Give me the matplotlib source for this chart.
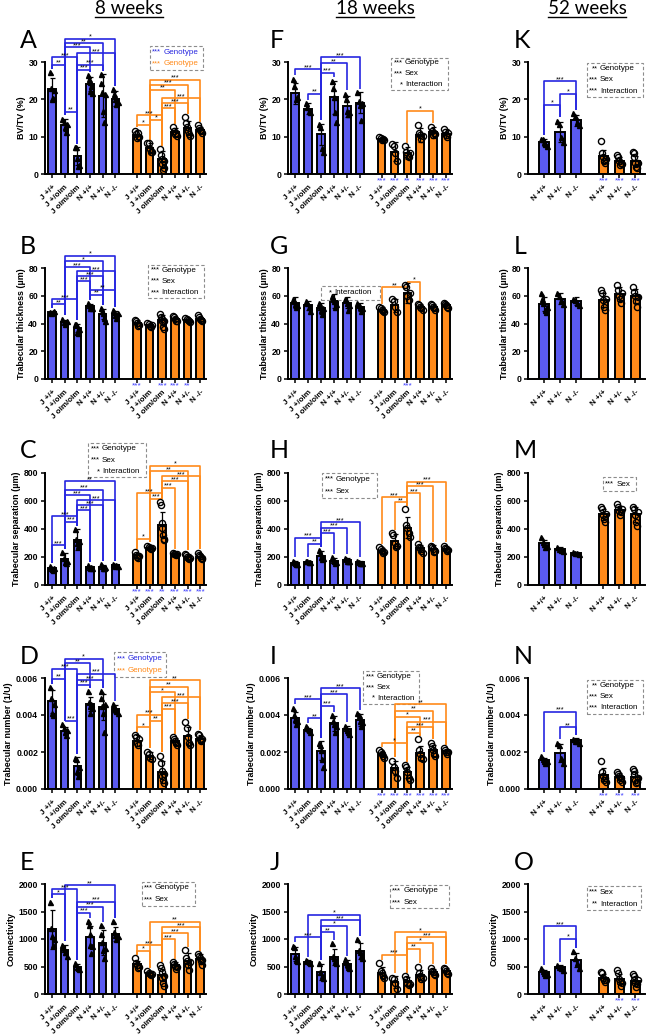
import numpy as np
import matplotlib.pyplot as plt
from matplotlib.patches import Rectangle
from matplotlib.lines import Line2D
from matplotlib.ticker import FormatStrFormatter

plt.rcParams['font.family'] = ['Liberation Sans', 'DejaVu Sans']

BLUE = '#5a5af0'
BLUE_LINE = '#2626e0'
ORANGE = '#ff8a1a'
STAR_BLUE = '#3c3cff'

# ---- labels ----
gen_labels = ["J +/+", "J +/oim", "J oim/oim", "N +/+", "N +/-", "N -/-"]
n_labels = ["N +/+", "N +/-", "N -/-"]
col_titles = ["8 weeks", "18 weeks", "52 weeks"]
ylabels = ["BV/TV (%)", "Trabecular thickness (\u00b5m)", "Trabecular separation (\u00b5m)",
           "Trabecular number (1/U)", "Connectivity"]

# ---- 8 weeks ----
A_mean = [22.7, 13.2, 4.7, 24.1, 21.0, 20.1, 10.5, 6.9, 3.9, 11.2, 12.3, 11.8]
A_sd = [3.0, 1.6, 2.4, 1.8, 5.7, 2.0, 1.2, 1.3, 2.3, 1.2, 1.8, 0.8]
A_pts = [[27.3, 23.0, 20.0, 20.3, 22.5], [14.8, 13.8, 12.5, 11.3, 13.4], [7.2, 7.1, 4.2, 2.2, 2.4],
         [26.5, 25.5, 24.6, 22.3, 23.6, 21.8], [26.8, 24.5, 22.0, 17.0, 14.0, 21.5], [22.8, 21.5, 20.0, 18.8, 19.2],
         [11.5, 10.6, 9.6, 11.0, 9.9], [8.3, 8.2, 6.6, 6.0, 5.8], [6.6, 5.0, 4.0, 2.6, 1.1, 1.7, 3.6],
         [12.6, 11.6, 10.6, 11.1, 10.2], [15.2, 13.6, 12.6, 11.6, 10.6, 10.3], [13.0, 12.4, 11.9, 11.5, 11.0]]
A_brk = [(1, 5, 36.2, '*'), (1, 4, 35.1, '**'), (1, 3, 33.9, '***'), (2, 5, 32.4, '***'), (0, 2, 31.3, '***'),
         (0, 1, 29.3, '**'), (2, 4, 29.3, '***'), (2, 3, 27.9, '***'), (1, 2, 16.7, '**'),
         (7, 11, 25.2, '***'), (7, 10, 23.9, '***'), (7, 9, 22.6, '**'), (8, 11, 20.3, '***'),
         (8, 10, 19.0, '***'), (8, 9, 17.6, '***'), (6, 8, 15.8, '***'), (7, 8, 14.5, '*'), (6, 7, 13.2, '*')]
A_under = [''] * 12
A_leg = [('***', 'Genotype'), ('***', 'Genotype')]

B_mean = [48.0, 41.0, 36.7, 52.5, 46.8, 46.8, 40.3, 38.8, 42.4, 43.2, 42.4, 43.0]
B_sd = [0.8, 1.8, 3.0, 1.8, 3.5, 2.2, 2.0, 1.2, 3.5, 1.5, 1.2, 1.5]
B_pts = [[48.5, 47.5, 48.0, 48.8], [43.5, 41.0, 40.0, 42.0], [40.0, 39.5, 34.0, 33.5, 36.0],
         [54.5, 53.0, 51.0, 52.5, 51.5], [51.0, 49.0, 47.5, 44.0, 42.0], [49.5, 48.0, 46.0, 44.0, 47.5],
         [42.5, 42.0, 40.5, 38.5, 39.0], [40.5, 39.5, 38.5, 37.5, 39.0], [47.0, 45.0, 43.0, 41.5, 37.5, 36.0, 42.0],
         [45.5, 44.5, 43.5, 42.0, 41.5], [44.0, 43.0, 42.5, 41.5, 41.0], [46.0, 45.0, 43.5, 42.5, 41.5]]
B_brk = [(1, 5, 89.0, '*'), (1, 4, 85.0, '*'), (1, 3, 80.7, '***'), (2, 5, 77.8, '***'), (2, 4, 74.0, '***'),
         (2, 3, 70.4, '***'), (3, 5, 64.4, '**'), (3, 4, 60.9, '**'), (0, 2, 57.3, '***'), (0, 1, 53.7, '**')]
B_under = [''] * 6 + ['***', '', '***', '***', '**', '']
B_leg = [('***', 'Genotype'), ('***', 'Sex'), ('***', 'Interaction')]

C_mean = [119, 185, 325, 130, 130, 142, 212, 266, 432, 220, 202, 202]
C_sd = [10, 45, 75, 8, 12, 8, 18, 12, 90, 6, 20, 18]
C_pts = [[135, 125, 115, 110, 120], [235, 190, 165, 160, 175], [400, 330, 300, 280, 315],
         [140, 132, 125, 128, 122], [150, 135, 125, 120, 130], [150, 145, 138, 140, 135],
         [235, 215, 200, 195, 210], [280, 270, 262, 258, 265], [590, 570, 440, 410, 360, 320, 330],
         [230, 225, 218, 215, 220], [225, 215, 200, 190, 185, 195], [230, 215, 205, 195, 190, 185]]
C_brk = [(1, 5, 740, '**'), (1, 4, 681, '***'), (1, 3, 641, '***'), (2, 5, 605, '***'), (2, 4, 570, '***'),
         (2, 3, 534, '***'), (0, 2, 492, '***'), (1, 2, 452, '***'), (0, 1, 285, '***'),
         (7, 11, 852, '*'), (7, 10, 812, '**'), (8, 11, 776, '***'), (8, 10, 741, '***'), (8, 9, 695, '***'),
         (6, 8, 657, '***'), (7, 8, 617, '***'), (6, 7, 332, '*')]
C_under = [''] * 6 + ['***', '***', '**', '***', '***', '***']
C_leg = [('***', 'Genotype'), ('***', 'Sex'), ('*', 'Interaction')]

D_mean = [0.00473, 0.00316, 0.00123, 0.00459, 0.00441, 0.00432, 0.00262, 0.00181, 0.00094, 0.00257, 0.00287, 0.00271]
D_sd = [0.0006, 0.0002, 0.0005, 0.0004, 0.0007, 0.0002, 0.0003, 0.0002, 0.0006, 0.0002, 0.0005, 0.0002]
D_pts = [[0.0055, 0.0049, 0.0041, 0.0040, 0.0046], [0.0035, 0.0033, 0.0031, 0.0029, 0.0032],
         [0.0017, 0.0016, 0.0010, 0.0007, 0.0012], [0.0053, 0.0047, 0.0045, 0.0041, 0.0046, 0.0044],
         [0.0053, 0.0049, 0.0045, 0.0041, 0.0031, 0.0046], [0.0046, 0.0044, 0.0043, 0.0042, 0.0041],
         [0.0029, 0.0028, 0.0025, 0.0024, 0.0027], [0.0020, 0.0019, 0.0017, 0.0016],
         [0.0018, 0.0014, 0.0010, 0.0007, 0.0005, 0.0003, 0.0008], [0.0028, 0.0027, 0.0026, 0.0025, 0.0024],
         [0.0036, 0.0033, 0.0028, 0.0025, 0.0024], [0.0030, 0.0029, 0.0027, 0.0026, 0.0027]]
D_brk = [(1, 4, 0.00705, '*'), (1, 3, 0.00681, '**'), (0, 2, 0.00649, '***'), (2, 5, 0.00622, '***'),
         (0, 1, 0.00596, '**'), (2, 4, 0.00589, '***'), (2, 3, 0.00564, '***'), (1, 2, 0.00370, '***'),
         (7, 11, 0.00589, '**'), (7, 10, 0.00553, '**'), (7, 9, 0.00524, '*'), (8, 11, 0.00495, '***'),
         (8, 10, 0.00464, '***'), (8, 9, 0.00434, '***'), (6, 8, 0.00401, '***'), (7, 8, 0.00370, '**'),
         (6, 7, 0.00333, '*')]
D_under = [''] * 12
D_leg = [('***', 'Genotype'), ('***', 'Genotype')]

E_mean = [1176, 800, 497, 1030, 933, 1091, 539, 376, 352, 521, 606, 636]
E_sd = [360, 90, 50, 200, 230, 130, 70, 40, 110, 60, 140, 90]
E_pts = [[1680, 1200, 1050, 900, 1000], [900, 820, 760, 700], [560, 500, 480, 450],
         [1320, 1250, 1100, 900, 750, 880], [1250, 1100, 950, 800, 650, 830], [1330, 1120, 1080, 1000, 1050],
         [650, 560, 520, 480, 500], [420, 390, 360, 340, 370], [520, 480, 400, 300, 200, 150, 330],
         [580, 540, 510, 460, 500], [800, 650, 600, 520, 430, 580], [730, 700, 650, 600, 520, 620]]
E_brk = [(1, 5, 1982, '**'), (0, 2, 1909, '***'), (0, 1, 1812, '*'), (2, 5, 1679, '***'), (2, 4, 1588, '***'),
         (2, 3, 1479, '***'), (7, 11, 1315, '**'), (8, 11, 1212, '***'), (8, 10, 1103, '***'),
         (8, 9, 994, '***'), (6, 8, 891, '***'), (6, 7, 788, '*')]
E_under = [''] * 12
E_leg = [('***', 'Genotype'), ('***', 'Sex')]

# ---- 18 weeks ----
F_mean = [21.6, 17.5, 10.7, 20.5, 18.2, 19.1, 9.4, 6.0, 5.6, 10.4, 11.2, 10.8]
F_sd = [2.8, 1.4, 2.8, 4.3, 2.8, 2.8, 0.5, 2.5, 1.6, 1.8, 1.5, 1.2]
F_pts = [[25.5, 23.5, 20.0, 20.5], [19.0, 18.0, 17.0, 16.5], [13.5, 12.5, 7.0, 6.0],
         [25.0, 23.0, 20.5, 16.5, 14.0], [21.5, 20.0, 17.0, 16.0, 16.5], [22.0, 19.5, 18.5, 14.5, 19.0],
         [10.0, 9.6, 9.2, 9.4, 9.0], [8.0, 7.5, 5.5, 3.5], [7.5, 6.0, 5.0, 4.5, 5.5],
         [13.0, 11.0, 10.5, 9.5, 10.2], [12.5, 11.5, 10.5, 11.0, 10.8], [12.0, 11.2, 10.5, 10.0, 11.0]]
F_brk = [(2, 5, 31.3, '***'), (2, 4, 29.7, '**'), (0, 2, 28.1, '***'), (2, 3, 27.1, '***'), (1, 2, 21.5, '**'),
         (8, 10, 17.0, '*')]
F_under = [''] * 6 + ['***', '***', '**', '***', '***', '***']
F_leg = [('***', 'Genotype'), ('***', 'Sex'), ('*', 'Interaction')]

G_mean = [55, 53, 51, 56, 55, 52, 50, 53, 62, 52, 52, 53]
G_sd = [4, 3, 4, 5, 4, 3, 2, 5, 7, 2, 2, 2]
G_pts = [[58, 56, 54, 52, 53], [56, 55, 52, 49], [55, 52, 50, 47, 51], [60, 58, 56, 52, 54],
         [58, 57, 55, 50, 53], [55, 53, 52, 49, 51], [52, 51, 50, 49, 48], [58, 56, 52, 48],
         [68, 66, 60, 57, 62], [54, 53, 52, 51, 50], [54, 53, 52, 51, 50], [55, 54, 53, 52, 51]]
G_brk = [(6, 8, 66.0, '**'), (8, 9, 70.0, '*')]
G_under = [''] * 6 + ['', '', '***', '', '', '']
G_leg = [('*', 'Interaction')]

H_mean = [158, 167, 210, 174, 179, 162, 246, 317, 408, 262, 255, 258]
H_sd = [15, 5, 30, 20, 12, 10, 20, 50, 75, 25, 30, 20]
H_pts = [[175, 165, 155, 150, 148], [175, 170, 165, 162], [250, 230, 200, 185, 190],
         [200, 180, 170, 160, 165], [195, 185, 175, 170, 170], [175, 165, 160, 155, 155],
         [270, 255, 245, 230, 235], [370, 360, 300, 270, 280], [540, 430, 410, 370, 340],
         [290, 275, 265, 240, 230], [280, 270, 255, 235, 240], [280, 265, 255, 245, 250]]
H_brk = [(2, 5, 449, '***'), (2, 4, 408, '***'), (2, 3, 370, '***'), (0, 2, 337, '***'), (1, 2, 294, '**'),
         (8, 11, 737, '***'), (8, 10, 706, '***'), (8, 9, 656, '***'), (6, 8, 627, '***'), (7, 8, 591, '**')]
H_under = [''] * 12
H_leg = [('***', 'Genotype'), ('***', 'Sex')]

I_mean = [0.00385, 0.00318, 0.00207, 0.00355, 0.00322, 0.00373, 0.00191, 0.00113, 0.00091, 0.00195, 0.00210, 0.00203]
I_sd = [0.0003, 0.0001, 0.0005, 0.0004, 0.0002, 0.0003, 0.0001, 0.0004, 0.0003, 0.0004, 0.0003, 0.0001]
I_pts = [[0.0044, 0.0040, 0.0038, 0.0035, 0.0037], [0.0034, 0.0033, 0.0032, 0.0031],
         [0.0025, 0.0024, 0.0021, 0.0016, 0.0012], [0.0040, 0.0037, 0.0035, 0.0031, 0.0034],
         [0.0034, 0.0033, 0.0032, 0.0031, 0.0030], [0.0041, 0.0040, 0.0037, 0.0034, 0.0036],
         [0.0021, 0.0020, 0.0019, 0.0018, 0.0017], [0.0015, 0.0012, 0.0010, 0.0006],
         [0.0013, 0.0012, 0.0009, 0.0006, 0.0005], [0.0027, 0.0021, 0.0019, 0.0017, 0.0016],
         [0.0025, 0.0023, 0.0021, 0.0019, 0.0018], [0.0022, 0.0021, 0.0020, 0.0019, 0.0020]]
I_brk = [(2, 5, 0.00545, '***'), (2, 4, 0.00513, '***'), (0, 2, 0.00485, '***'), (2, 3, 0.00449, '***'),
         (1, 2, 0.00382, '**'), (7, 11, 0.00458, '**'), (7, 10, 0.00422, '**'), (7, 9, 0.00391, '*'),
         (8, 11, 0.00364, '***'), (8, 10, 0.00335, '***'), (8, 9, 0.00304, '**'), (6, 8, 0.00249, '*')]
I_under = [''] * 6 + ['***'] * 6
I_leg = [('***', 'Genotype'), ('***', 'Sex'), ('*', 'Interaction')]

J_mean = [732, 585, 402, 671, 549, 780, 384, 213, 232, 341, 400, 420]
J_sd = [130, 30, 140, 150, 70, 150, 100, 110, 80, 90, 60, 50]
J_pts = [[880, 860, 700, 620, 600], [620, 600, 580, 560], [560, 400, 320, 300], [920, 700, 650, 600, 560],
         [640, 580, 540, 500, 480], [1000, 800, 760, 700, 650], [560, 420, 380, 330, 300],
         [300, 280, 200, 100], [320, 280, 200, 160, 180], [500, 380, 330, 280, 300],
         [480, 420, 400, 360, 350], [480, 450, 420, 380, 370]]
J_brk = [(1, 5, 1445, '*'), (2, 5, 1341, '***'), (2, 4, 1238, '*'), (2, 3, 1128, '**'), (0, 2, 1037, '***'),
         (7, 11, 1128, '*'), (8, 11, 1037, '***'), (8, 10, 933, '*'), (8, 9, 823, '**'), (6, 8, 713, '***')]
J_under = [''] * 12
J_leg = [('***', 'Genotype'), ('***', 'Sex')]

# ---- 52 weeks ----
K_mean = [8.5, 11.3, 14.4, 4.7, 3.6, 3.4]
K_sd = [1.0, 2.6, 1.5, 1.8, 1.0, 1.5]
K_pts = [[9.5, 9.5, 8.5, 8.0, 7.5], [14.3, 13.5, 10.0, 8.5], [16.3, 15.5, 14.0, 13.0],
         [8.8, 5.5, 4.5, 3.5, 3.0, 4.0], [5.0, 4.5, 3.5, 2.5, 3.0, 2.8], [6.0, 5.5, 4.5, 3.0, 2.0, 1.5, 3.0]]
K_brk = [(0, 2, 24.9, '***'), (1, 2, 21.5, '*'), (0, 1, 18.6, '*')]
K_under = ['', '', '', '***', '***', '***']
K_leg = [('**', 'Genotype'), ('***', 'Sex'), ('***', 'Interaction')]

L_mean = [54, 58, 56, 57, 61, 60]
L_sd = [5, 4, 3, 5, 5, 5]
L_pts = [[62, 58, 55, 50, 48, 52], [62, 60, 57, 54], [58, 57, 55, 53], [64, 62, 57, 52, 50, 58],
         [68, 64, 60, 58, 55, 62], [66, 63, 60, 56, 52, 59]]
L_brk = []
L_under = [''] * 6
L_leg = []

M_mean = [300, 255, 230, 505, 535, 505]
M_sd = [25, 15, 5, 40, 30, 55]
M_pts = [[340, 310, 290, 270, 280], [270, 260, 250, 240], [235, 230, 228, 225], [560, 540, 500, 470, 450, 510],
         [580, 560, 530, 500, 520, 540], [560, 540, 500, 450, 420, 520]]
M_brk = []
M_under = [''] * 6
M_leg = [('***', 'Sex')]

N_mean = [0.00155, 0.00194, 0.00263, 0.00076, 0.00067, 0.00064]
N_sd = [0.00015, 0.0005, 0.0001, 0.00035, 0.0002, 0.0003]
N_pts = [[0.0018, 0.0016, 0.0015, 0.0014, 0.0015], [0.0025, 0.0024, 0.0017, 0.0014],
         [0.0027, 0.0026, 0.0026, 0.0025], [0.0015, 0.0009, 0.0007, 0.0005, 0.0006, 0.0004],
         [0.0009, 0.0008, 0.0007, 0.0005, 0.0006, 0.0004], [0.0011, 0.0010, 0.0008, 0.0005, 0.0003, 0.0004, 0.0006]]
N_brk = [(0, 2, 0.00417, '***'), (1, 2, 0.00334, '**')]
N_under = ['', '', '', '***', '***', '***']
N_leg = [('**', 'Genotype'), ('***', 'Sex'), ('***', 'Interaction')]

O_mean = [394, 485, 618, 297, 273, 242]
O_sd = [50, 40, 130, 60, 90, 90]
O_pts = [[470, 420, 380, 350, 360], [520, 500, 480, 440], [780, 650, 560, 480],
         [400, 380, 300, 250, 220, 260], [440, 380, 280, 220, 150, 200], [370, 330, 260, 200, 120, 180, 250]]
O_brk = [(0, 2, 1236, '***'), (1, 2, 1006, '*')]
O_under = ['', '', '', '', '***', '***']
O_leg = [('***', 'Sex'), ('**', 'Interaction')]

# ---- layout (pixels of the 648x1035 canvas) ----
W, H = 648, 1035
rows_y = [(62, 174), (268, 379), (473, 585), (678, 789), (884, 994)]
cols_x = [(45, 206), (288, 452), (528, 645)]
y_scales = [(30, 10, '%d'), (80, 20, '%d'), (800, 200, '%d'), (0.006, 0.002, '%.3f'), (2000, 500, '%d')]
pos12 = [0, 1, 2, 3, 4, 5, 6.7, 7.7, 8.7, 9.7, 10.7, 11.7]
pos6 = [0, 1, 2, 3.7, 4.7, 5.7]
leg_boxes = {
    'A': (0.65, 0.93, 0.98, 1.14), 'B': (0.64, 0.73, 0.99, 1.03), 'C': (0.27, 0.96, 0.63, 1.27),
    'D': (0.43, 1.01, 0.75, 1.23), 'E': (0.60, 0.80, 0.93, 1.02), 'F': (0.63, 0.75, 0.976, 1.04),
    'G': (0.20, 0.71, 0.56, 0.84), 'H': (0.21, 0.78, 0.54, 1.00), 'I': (0.46, 0.77, 0.80, 1.06),
    'J': (0.62, 0.78, 0.98, 0.99), 'K': (0.50, 0.69, 0.98, 0.99), 'M': (0.64, 0.84, 0.92, 0.96),
    'N': (0.50, 0.68, 0.98, 0.98), 'O': (0.50, 0.76, 0.97, 0.98),
}
leg_colors = {'A': [BLUE_LINE, ORANGE], 'D': [BLUE_LINE, ORANGE]}

panels = [
    ('A', 0, 0, A_mean, A_sd, A_pts, A_brk, A_under, A_leg),
    ('B', 0, 1, B_mean, B_sd, B_pts, B_brk, B_under, B_leg),
    ('C', 0, 2, C_mean, C_sd, C_pts, C_brk, C_under, C_leg),
    ('D', 0, 3, D_mean, D_sd, D_pts, D_brk, D_under, D_leg),
    ('E', 0, 4, E_mean, E_sd, E_pts, E_brk, E_under, E_leg),
    ('F', 1, 0, F_mean, F_sd, F_pts, F_brk, F_under, F_leg),
    ('G', 1, 1, G_mean, G_sd, G_pts, G_brk, G_under, G_leg),
    ('H', 1, 2, H_mean, H_sd, H_pts, H_brk, H_under, H_leg),
    ('I', 1, 3, I_mean, I_sd, I_pts, I_brk, I_under, I_leg),
    ('J', 1, 4, J_mean, J_sd, J_pts, J_brk, J_under, J_leg),
    ('K', 2, 0, K_mean, K_sd, K_pts, K_brk, K_under, K_leg),
    ('L', 2, 1, L_mean, L_sd, L_pts, L_brk, L_under, L_leg),
    ('M', 2, 2, M_mean, M_sd, M_pts, M_brk, M_under, M_leg),
    ('N', 2, 3, N_mean, N_sd, N_pts, N_brk, N_under, N_leg),
    ('O', 2, 4, O_mean, O_sd, O_pts, O_brk, O_under, O_leg),
]

fig = plt.figure(figsize=(W / 100, H / 100), dpi=100)

for letter, col, row, mean, sd, pts, brk, under, leg in panels:
    x0, x1 = cols_x[col]
    y0, y1 = rows_y[row]
    ax = fig.add_axes([x0 / W, 1 - y1 / H, (x1 - x0) / W, (y1 - y0) / H])
    axw = x1 - x0
    n = len(mean)
    half = n // 2
    pos = pos12 if n == 12 else pos6
    labels = gen_labels * 2 if n == 12 else n_labels * 2
    ymax, ystep, fmt = y_scales[row]

    colors = [BLUE] * half + [ORANGE] * half
    ax.bar(pos, mean, width=0.6, color=colors, edgecolor='black', linewidth=1.4, zorder=1)
    for i in range(n):
        k = len(pts[i])
        offs = np.linspace(-0.17, 0.17, k)
        if i < half:
            ax.plot(np.array(pos[i]) + offs, pts[i], '^', color='black', ms=3.6, zorder=3, clip_on=False)
        else:
            ax.plot(np.array(pos[i]) + offs, pts[i], 'o', mfc='none', mec='black', mew=1.0, ms=4.4,
                    zorder=3, clip_on=False)
    ax.errorbar(pos, mean, yerr=sd, fmt='none', ecolor='black', elinewidth=0.9, capsize=1.8,
                capthick=0.9, zorder=4)

    tops = [max(max(p), m + s) for p, m, s in zip(pts, mean, sd)]
    pad = 0.03 * ymax
    for i, j, h, lab in brk:
        c = BLUE_LINE if i < half else ORANGE
        ax.plot([pos[i], pos[i], pos[j], pos[j]],
                [min(tops[i] + pad, h), h, h, min(tops[j] + pad, h)],
                color=c, lw=1.2, clip_on=False, zorder=2, solid_capstyle='butt')
        ax.annotate(lab, ((pos[i] + pos[j]) / 2, h), xytext=(0, -1.4), textcoords='offset points',
                    ha='center', va='bottom', fontsize=5.2, annotation_clip=False)

    for i, s in enumerate(under):
        if s:
            ax.text(pos[i], -0.065, s, transform=ax.get_xaxis_transform(), ha='center', va='center',
                    fontsize=6, color=STAR_BLUE)

    if leg:
        bx0, by0, bx1, by1 = leg_boxes[letter]
        ax.add_patch(Rectangle((bx0, by0), bx1 - bx0, by1 - by0, transform=ax.transAxes, fill=False,
                               ls=(0, (3, 2)), ec='#8c8c8c', lw=0.8, clip_on=False))
        cols = leg_colors.get(letter, ['black'] * len(leg))
        nl = len(leg)
        for k, (st, word) in enumerate(leg):
            yy = by1 - (k + 0.5) * (by1 - by0) / nl
            ax.text(bx0 + 11.5 / axw, yy, st, transform=ax.transAxes, ha='right', va='center',
                    fontsize=5.5, color=cols[k])
            ax.text(bx0 + 13.5 / axw, yy, word, transform=ax.transAxes, ha='left', va='center',
                    fontsize=5.8, color=cols[k])

    ax.set_ylim(0, ymax)
    ax.set_yticks(np.arange(0, ymax + ystep / 2, ystep))
    ax.yaxis.set_major_formatter(FormatStrFormatter(fmt))
    if n == 12:
        ax.set_xlim(-0.55, 12.15)
    else:
        ax.set_xlim(-1.0, 6.3)
    ax.set_xticks(pos)
    ax.set_xticklabels(labels, rotation=45, ha='right', rotation_mode='anchor', fontsize=5.8,
                       fontweight='bold')
    for t in ax.get_yticklabels():
        t.set_fontweight('bold')
        t.set_fontsize(6.2)
    ax.tick_params(axis='both', direction='out', length=3, width=1.1, pad=2)
    ax.tick_params(axis='x', pad=4)
    ax.set_ylabel(ylabels[row], fontsize=6.4, fontweight='bold', labelpad=2)
    for side in ['top', 'right']:
        ax.spines[side].set_visible(False)
    for side in ['left', 'bottom']:
        ax.spines[side].set_linewidth(1.4)

    lx = x0 - [25, 18, 14][col]
    ly = y0 - 22
    fig.text(lx / W, 1 - ly / H, letter, fontsize=18, family='Lato', ha='left', va='center')

# column headings, underlined
title_x = [129, 375, 587]
for tx, txt in zip(title_x, col_titles):
    fig.text(tx / W, 1 - 8 / H, txt, fontsize=13.5, family='Lato', ha='center', va='center')
fig.canvas.draw()
r = fig.canvas.get_renderer()
for t in fig.texts:
    if t.get_text() in col_titles:
        bb = t.get_window_extent(r)
        fig.add_artist(Line2D([bb.x0 / W, bb.x1 / W], [1 - 16.5 / H] * 2, color='black', lw=1.0,
                              transform=fig.transFigure))

fig.savefig('out.png', dpi=100)
